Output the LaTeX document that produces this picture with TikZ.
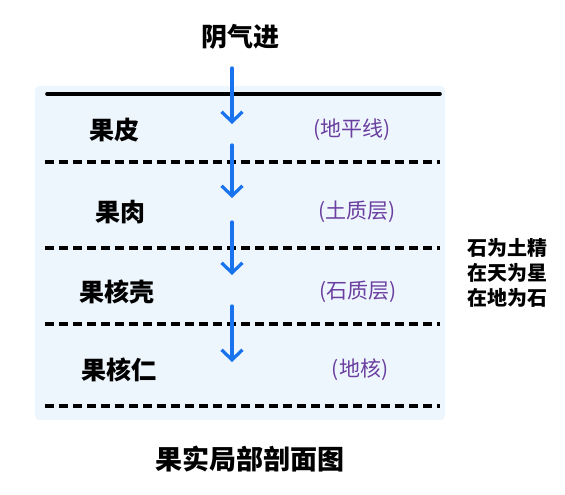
\documentclass[tikz,border=0pt]{standalone}
\usepackage{fontspec}
\setmainfont{Noto Sans CJK SC}
\usetikzlibrary{arrows.meta}
\definecolor{skin}{HTML}{EEF6FD}
\definecolor{flow}{HTML}{1A73EE}
\definecolor{earth}{HTML}{6B3FA0}
\tikzset{part/.style={font=\bfseries\fontsize{25}{27}\selectfont, anchor=center},
  geo/.style={text=earth, font=\fontsize{21}{23}\selectfont, anchor=center},
  cut/.style={line width=3.4pt, dash pattern=on 9pt off 5pt},
  sink/.style={flow, line width=3.2pt, line cap=round,
    -{Straight Barb[length=10pt, width=21pt, line width=3.2pt]}},
  lab/.style={font=\bfseries\fontsize{20}{25}\selectfont, align=left}}

\begin{document}
\begin{tikzpicture}[x=1pt, y=1pt]
  \useasboundingbox (0,0) rectangle (565,495);
  % section background
  \fill[skin, rounded corners=4pt] (35,75) rectangle (445,409);
  % boundaries
  \draw[line width=3.6pt, line cap=round] (47,401) -- (440,401);
  \foreach \yy in {333,247,171,89}
    \draw[cut] (45,\yy) -- (440,\yy);
  % downward path
  \node[font=\bfseries\fontsize{26}{28}\selectfont] (ttl) at (240,458) {阴气进};
  \coordinate (a0) at (232,427);
  \coordinate (a1) at (232,371);
  \coordinate (a2) at (232,350);
  \coordinate (a3) at (232,297);
  \coordinate (a4) at (232,273);
  \coordinate (a5) at (232,220);
  \coordinate (a6) at (232,189);
  \coordinate (a7) at (232,133);
  \draw[sink] (a0) -- (a1);
  \draw[sink] (a2) -- (a3);
  \draw[sink] (a4) -- (a5);
  \draw[sink] (a6) -- (a7);
  % fruit parts
  \node[part] (pi) at (114,365) {果皮};
  \node[part] (rou) at (120,283) {果肉};
  \node[part] (ke) at (117,203) {果核壳};
  \node[part] (ren) at (119,125) {果核仁};
  % earth layers
  \node[geo] (dpx) at (352,365) {(地平线)};
  \node[geo] (tzc) at (357,283) {(土质层)};
  \node[geo] (szc) at (358,203) {(石质层)};
  \node[geo] (dh) at (360,125) {(地核)};
  % side note
  \node[lab] (note) at (507,222) {石为土精\\在天为星\\在地为石};
  \node[font=\bfseries\fontsize{27}{29}\selectfont] (cap) at (250,36) {果实局部剖面图};
\end{tikzpicture}
\end{document}
